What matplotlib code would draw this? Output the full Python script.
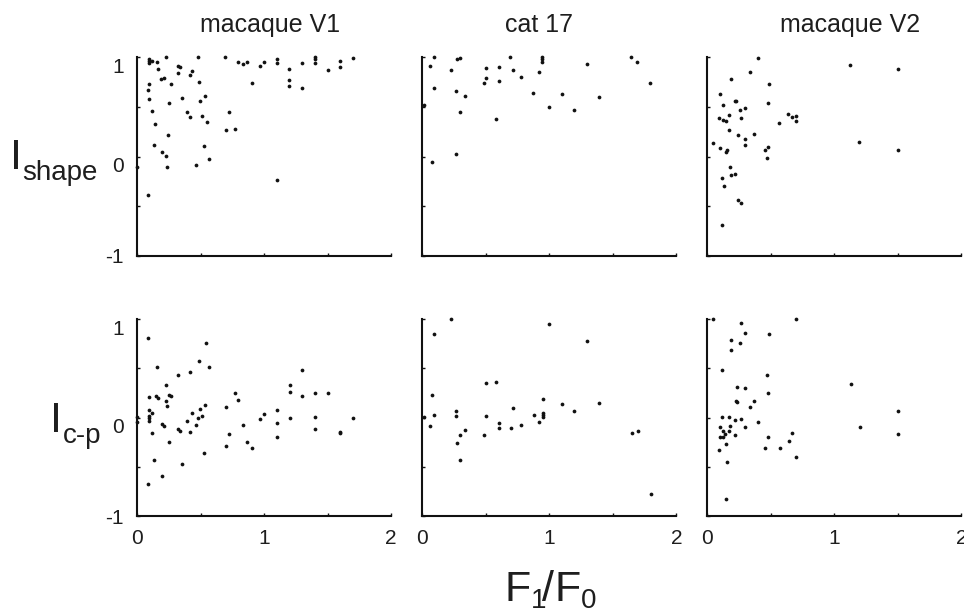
import matplotlib
matplotlib.use('Agg')
import matplotlib.pyplot as plt

plt.rcParams['font.family'] = ['Liberation Sans', 'DejaVu Sans']

# ---------------- data ----------------
titles = ['macaque V1', 'cat 17', 'macaque V2']
row_labels = [('I', 'shape'), ('I', 'c-p')]
x_ticklabels = ['0', '1', '2']
y_ticklabels = ['-1', '0', '1']

v1_shape_x = [0.095, 0.095, 0.095, 0.118, 0.158, 0.226, 0.478, 0.696, 0.799, 0.838,
              0.870, 0.967, 0.999, 1.099, 1.099, 1.301, 1.398, 1.398, 1.398, 1.598,
              1.598, 1.698, 1.501, 1.196, 1.196, 1.196, 1.298, 0.909, 0.168, 0.326,
              0.336, 0.326, 0.418, 0.434, 0.192, 0.216, 0.489, 0.265, 0.097, 0.087,
              0.097, 0.255, 0.357, 0.499, 0.539, 0.118, 0.397, 0.418, 0.515, 0.549,
              0.728, 0.704, 0.775, 0.145, 0.247, 0.134, 0.194, 0.226, 0.526, 0.565,
              0.003, 0.239, 0.468, 1.099, 0.087]
v1_shape_y = [0.980, 0.963, 0.946, 0.966, 0.956, 1.000, 1.000, 1.000, 0.950, 0.929,
              0.950, 0.909, 0.956, 0.980, 0.946, 0.939, 1.000, 0.980, 0.946, 0.966,
              0.899, 0.990, 0.872, 0.882, 0.771, 0.714, 0.687, 0.738, 0.882, 0.913,
              0.899, 0.842, 0.825, 0.862, 0.785, 0.795, 0.755, 0.728, 0.728, 0.667,
              0.580, 0.543, 0.590, 0.560, 0.610, 0.462, 0.452, 0.402, 0.405, 0.348,
              0.452, 0.267, 0.277, 0.328, 0.220, 0.113, 0.045, 0.005, 0.103, -0.022,
              -0.109, -0.109, -0.082, -0.237, -0.385]

cat_shape_x = [0.094, 0.063, 0.276, 0.297, 0.226, 0.094, 0.262, 0.336, 0.013, 0.297,
               0.499, 0.499, 0.488, 0.606, 0.606, 0.693, 0.714, 0.774, 0.583, 0.874,
               0.916, 0.942, 0.942, 0.942, 0.997, 1.097, 1.194, 1.297, 1.394, 1.643,
               1.693, 1.793, 0.262, 0.073]
cat_shape_y = [1.000, 0.909, 0.980, 0.990, 0.872, 0.687, 0.657, 0.610, 0.519, 0.445,
               0.892, 0.795, 0.745, 0.903, 0.765, 1.000, 0.872, 0.805, 0.375, 0.640,
               0.852, 1.000, 0.980, 0.956, 0.503, 0.630, 0.472, 0.929, 0.600, 1.000,
               0.950, 0.745, 0.025, -0.052]

v2_shape_x = [0.396, 1.123, 1.499, 0.336, 0.184, 0.488, 0.097, 0.126, 0.215, 0.226,
              0.255, 0.297, 0.478, 0.092, 0.126, 0.147, 0.168, 0.268, 0.168, 0.239,
              0.297, 0.297, 0.367, 0.567, 0.635, 0.667, 0.696, 0.696, 0.047, 0.097,
              0.144, 0.155, 0.457, 0.478, 0.467, 1.194, 1.499, 0.178, 0.184, 0.215,
              0.118, 0.134, 0.239, 0.268, 0.118]
v2_shape_y = [0.993, 0.923, 0.886, 0.855, 0.782, 0.731, 0.634, 0.516, 0.556, 0.556,
              0.466, 0.486, 0.536, 0.388, 0.371, 0.361, 0.418, 0.388, 0.264, 0.213,
              0.176, 0.116, 0.224, 0.341, 0.429, 0.402, 0.412, 0.361, 0.136, 0.089,
              0.049, 0.066, 0.069, 0.099, -0.018, 0.146, 0.069, -0.106, -0.187, -0.176,
              -0.213, -0.301, -0.439, -0.469, -0.691]

v1_cp_x = [0.087, 0.547, 0.486, 0.155, 0.570, 0.326, 0.418, 1.298, 0.226, 1.201,
           0.095, 0.147, 0.168, 0.250, 0.265, 0.226, 0.237, 0.775, 0.799, 1.201,
           1.298, 1.401, 1.501, 0.095, 0.118, 0.095, 0.095, 0.095, 0.003, 0.003,
           0.194, 0.216, 0.326, 0.336, 0.397, 0.418, 0.436, 0.468, 0.478, 0.497,
           0.515, 0.539, 0.699, 0.728, 0.838, 0.967, 0.999, 1.099, 1.099, 1.099,
           1.201, 1.401, 1.401, 1.601, 1.601, 1.700, 0.118, 0.255, 0.704, 0.870,
           0.909, 0.526, 0.357, 0.134, 0.194, 0.087]
v1_cp_y = [0.801, 0.750, 0.575, 0.508, 0.508, 0.430, 0.460, 0.477, 0.332, 0.332,
           0.204, 0.221, 0.194, 0.231, 0.221, 0.164, 0.113, 0.245, 0.174, 0.255,
           0.221, 0.245, 0.245, 0.079, 0.046, 0.012, -0.005, -0.032, 0.005, -0.049,
           -0.069, -0.089, -0.113, -0.137, -0.032, -0.150, 0.046, -0.079, -0.002, 0.086,
           0.019, 0.123, 0.106, -0.167, -0.079, -0.019, 0.039, 0.076, -0.059, -0.197,
           -0.008, 0.008, -0.120, -0.143, -0.157, -0.002, -0.157, -0.245, -0.292, -0.245,
           -0.312, -0.363, -0.470, -0.433, -0.589, -0.676]

cat_cp_x = [0.226, 0.997, 0.094, 1.297, 0.499, 0.583, 0.073, 0.948, 1.097, 1.394,
            0.262, 0.262, 0.094, 0.013, 0.499, 0.714, 0.877, 0.948, 0.948, 0.948,
            1.194, 0.063, 0.606, 0.606, 0.698, 0.774, 0.916, 0.336, 0.297, 0.488,
            0.276, 0.297, 1.648, 1.698, 1.801]
cat_cp_y = [1.000, 0.949, 0.841, 0.771, 0.352, 0.363, 0.228, 0.187, 0.137, 0.147,
            0.069, 0.019, 0.029, 0.002, 0.012, 0.100, 0.022, 0.042, 0.022, 0.005,
            0.069, -0.086, -0.056, -0.106, -0.106, -0.076, -0.049, -0.126, -0.177, -0.177,
            -0.255, -0.430, -0.157, -0.137, -0.771]

v2_cp_x = [0.047, 0.701, 0.268, 0.297, 0.488, 0.189, 0.255, 0.189, 0.118, 0.467,
           1.129, 0.236, 0.297, 0.478, 0.226, 0.236, 0.367, 0.336, 1.499, 0.118,
           0.168, 0.268, 0.215, 0.396, 0.097, 0.178, 0.297, 0.126, 0.168, 0.136,
           0.215, 0.097, 0.126, 0.478, 0.667, 0.640, 1.199, 1.499, 0.144, 0.457,
           0.570, 0.092, 0.701, 0.157, 0.144]
v2_cp_y = [1.000, 1.000, 0.956, 0.852, 0.841, 0.784, 0.754, 0.683, 0.481, 0.430,
           0.336, 0.305, 0.295, 0.248, 0.167, 0.157, 0.167, 0.110, 0.069, 0.002,
           0.002, -0.015, -0.029, -0.046, -0.096, -0.086, -0.096, -0.137, -0.137, -0.167,
           -0.177, -0.194, -0.194, -0.201, -0.153, -0.234, -0.096, -0.164, -0.271, -0.312,
           -0.312, -0.332, -0.400, -0.450, -0.828]

panels = [[(v1_shape_x, v1_shape_y), (cat_shape_x, cat_shape_y), (v2_shape_x, v2_shape_y)],
          [(v1_cp_x, v1_cp_y), (cat_cp_x, cat_cp_y), (v2_cp_x, v2_cp_y)]]

# ---------------- layout (pixels) ----------------
W, H = 964, 610
fig = plt.figure(figsize=(W / 100, H / 100), dpi=100)
fig.patch.set_facecolor('white')

col_left = [137, 422.3, 707.3]
col_w = 254
row_top = [57.3, 318.7]
row_bot = [255.7, 516.3]

TXT = '#1e1e1e'
PT = 0.72  # points per pixel

def fx(px):
    return px / W

def fy(py):
    return 1 - py / H

yt_off = {'1': 16.1, '0': 15.4, '-1': 7.2}

for r in range(2):
    for c in range(3):
        ax = fig.add_axes([fx(col_left[c]), fy(row_bot[r]), col_w / W,
                           (row_bot[r] - row_top[r]) / H])
        xs, ys = panels[r][c]
        ax.plot(xs, ys, linestyle='none', marker='o', markersize=2.7,
                markerfacecolor='#111111', markeredgewidth=0, clip_on=False)
        ax.set_xlim(0, 2)
        ax.set_ylim(-1, 1)
        ax.set_xticks([0, 0.5, 1, 1.5, 2])
        ax.set_yticks([-1, -0.5, 0, 0.5, 1])
        ax.tick_params(direction='in', length=2.5, width=1.0, color='#111111',
                       labelbottom=False, labelleft=False)
        for s in ('top', 'right'):
            ax.spines[s].set_visible(False)
        for s in ('left', 'bottom'):
            ax.spines[s].set_linewidth(1.5)
            ax.spines[s].set_color('#111111')
        ax.set_facecolor('none')
        if c == 0:
            for lab in y_ticklabels:
                ax.annotate(lab, xy=(0, float(lab)), xycoords=('axes fraction', 'data'),
                            xytext=(-13 * PT, -yt_off[lab] * PT), textcoords='offset points',
                            ha='right', va='baseline', fontsize=15, color=TXT)
        if r == 1:
            for lab in x_ticklabels:
                ax.annotate(lab, xy=(float(lab), 0), xycoords=('data', 'axes fraction'),
                            xytext=(0, -27.7 * PT), textcoords='offset points',
                            ha='center', va='baseline', fontsize=15, color=TXT)

# titles
fig.text(fx(200.5), fy(32), titles[0], ha='left', va='baseline', fontsize=18, color=TXT)
fig.text(fx(539), fy(32), titles[1], ha='center', va='baseline', fontsize=18, color=TXT)
fig.text(fx(780.5), fy(32), titles[2], ha='left', va='baseline', fontsize=18, color=TXT)

# row labels
big = 31
sub = 20
fig.text(fx(9.5), fy(169.3), row_labels[0][0], ha='left', va='baseline', fontsize=big, color=TXT)
fig.text(fx(22), fy(180), row_labels[0][1], ha='left', va='baseline', fontsize=sub, color=TXT)
fig.text(fx(49.5), fy(431.7), row_labels[1][0], ha='left', va='baseline', fontsize=big, color=TXT)
fig.text(fx(62.5), fy(443.3), row_labels[1][1], ha='left', va='baseline', fontsize=sub, color=TXT)

# x label F1/F0
fig.text(fx(505), fy(600.7), 'F', ha='left', va='baseline', fontsize=big, color=TXT)
fig.text(fx(530.5), fy(608.5), '1', ha='left', va='baseline', fontsize=sub, color=TXT)
fig.text(fx(542.5), fy(600.7), '/', ha='left', va='baseline', fontsize=big, color=TXT)
fig.text(fx(554), fy(600.7), 'F', ha='left', va='baseline', fontsize=big, color=TXT)
fig.text(fx(580.5), fy(608.5), '0', ha='left', va='baseline', fontsize=sub, color=TXT)

fig.savefig('out.png', dpi=100, facecolor='white')
